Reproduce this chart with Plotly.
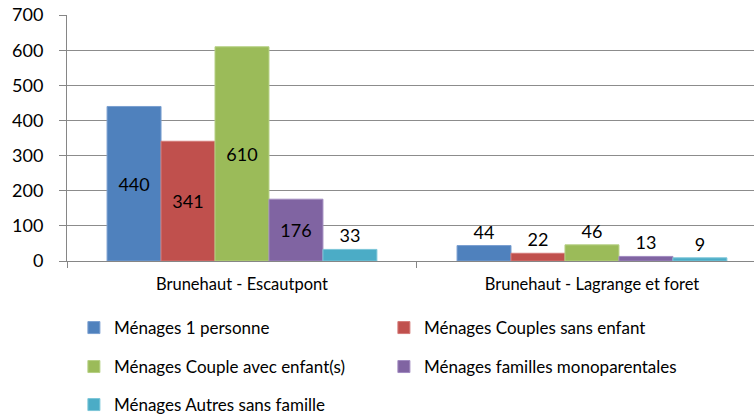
import plotly.graph_objects as go

categories = ["Brunehaut - Escautpont", "Brunehaut - Lagrange et foret"]
series_names = [
    "Ménages 1 personne",
    "Ménages Couples sans enfant",
    "Ménages Couple avec enfant(s)",
    "Ménages familles monoparentales",
    "Ménages Autres sans famille",
]
values_1_personne = [440, 44]
values_couples_sans_enfant = [341, 22]
values_couple_avec_enfants = [610, 46]
values_monoparentales = [176, 13]
values_autres = [33, 9]
y_ticks = [0, 100, 200, 300, 400, 500, 600, 700]

series_values = [
    values_1_personne,
    values_couples_sans_enfant,
    values_couple_avec_enfants,
    values_monoparentales,
    values_autres,
]
colors = ["#4F81BD", "#C0504D", "#9BBB59", "#8064A2", "#4BACC6"]
edge_colors = ["#7A9FD0", "#D47A78", "#B6D084", "#A18BC0", "#7CC6D8"]
legend_ids = ["legend", "legend", "legend2", "legend2", "legend3"]

FONT = "Lato, Carlito, 'Liberation Sans', sans-serif"

fig = go.Figure()
for name, vals, col, ecol, lg in zip(series_names, series_values, colors, edge_colors, legend_ids):
    positions = ["inside" if v >= 100 else "outside" for v in vals]
    fig.add_trace(go.Bar(
        name=name,
        x=categories,
        y=vals,
        marker=dict(color=col, line=dict(color=ecol, width=1)),
        text=[str(v) for v in vals],
        textposition=positions,
        insidetextanchor="middle",
        textangle=0,
        textfont=dict(family=FONT, size=18, color="#000000"),
        cliponaxis=False,
        legend=lg,
    ))

legend_common = dict(
    orientation="h",
    xref="container",
    yref="container",
    xanchor="left",
    yanchor="middle",
    font=dict(family=FONT, size=17, color="#000000"),
    entrywidth=265,
    entrywidthmode="pixels",
    bgcolor="rgba(0,0,0,0)",
    itemclick=False,
)

fig.update_layout(
    width=754,
    height=416,
    margin=dict(l=67, r=0, t=15, b=155, autoexpand=False),
    paper_bgcolor="white",
    plot_bgcolor="white",
    barmode="group",
    bargap=0.229,
    bargroupgap=0,
    font=dict(family=FONT, size=14, color="#000000"),
    legend=dict(x=0.098, y=0.2115, **legend_common),
    legend2=dict(x=0.098, y=0.1178, **legend_common),
    legend3=dict(x=0.098, y=0.0264, **legend_common),
    xaxis=dict(
        type="category",
        range=[-0.5, 1.463],
        automargin=False,
        showline=True,
        linecolor="#868686",
        linewidth=1,
        ticks="outside",
        tickson="boundaries",
        ticklen=6,
        tickcolor="#868686",
        showgrid=False,
        tickfont=dict(family=FONT, size=16.5, color="#000000"),
        ticklabelstandoff=8,
    ),
    yaxis=dict(
        range=[0, 700.5],
        tickvals=y_ticks,
        automargin=False,
        ticklabeloverflow="allow",
        showline=True,
        linecolor="#868686",
        linewidth=1,
        ticks="outside",
        ticklen=7,
        tickcolor="#868686",
        showgrid=True,
        gridcolor="#8C8C8C",
        gridwidth=1,
        zeroline=False,
        tickfont=dict(family=FONT, size=18, color="#000000"),
        ticklabelstandoff=12,
    ),
)

fig.write_html(
    "out.html",
    config={"displayModeBar": False},
    post_script="document.body.style.margin='0px';",
)
